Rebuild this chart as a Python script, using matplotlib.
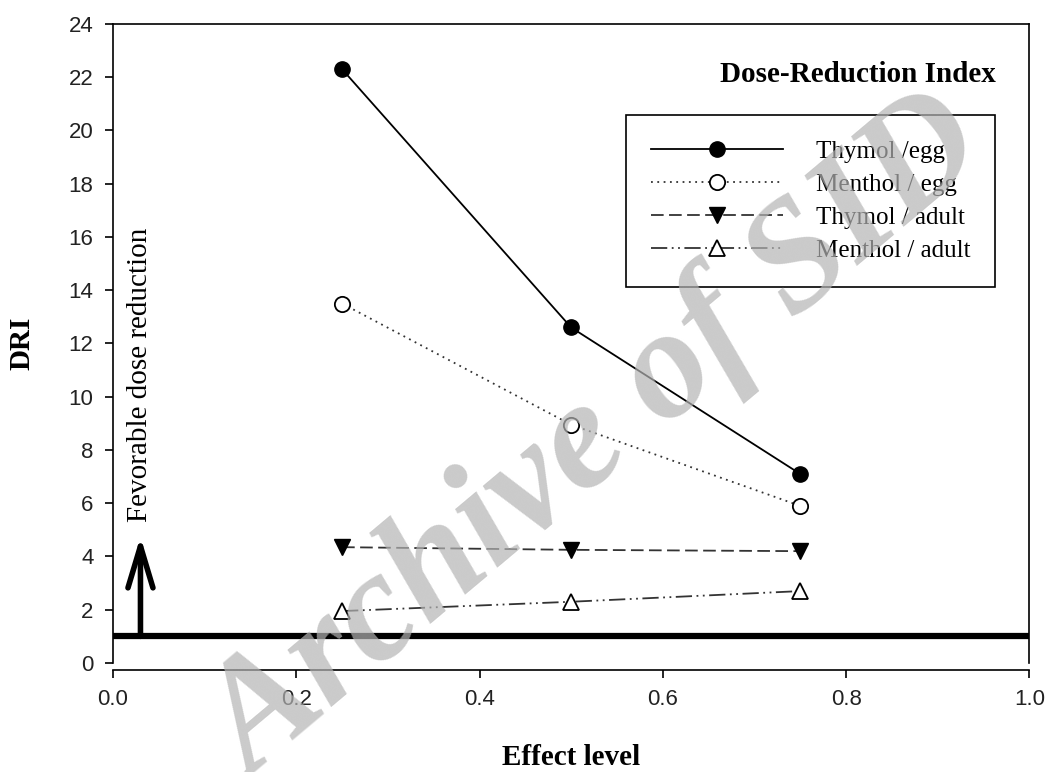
import matplotlib.pyplot as plt

effect_level = [0.25, 0.5, 0.75]
thymol_egg = [22.3, 12.6, 7.1]
menthol_egg = [13.5, 8.95, 5.9]
thymol_adult = [4.35, 4.25, 4.2]
menthol_adult = [1.95, 2.3, 2.7]
labels = ['Thymol /egg', 'Menthol / egg', 'Thymol / adult', 'Menthol / adult']

serif = 'Liberation Serif'
sans = 'Liberation Sans'
plt.rcParams['font.family'] = sans

fig = plt.figure(figsize=(10.48, 7.72), dpi=100)
ax = fig.add_axes([0.1078, 0.1412, 0.8744, 0.8278])

ax.plot(effect_level, thymol_egg, color='black', lw=1.3, ls='-',
        marker='o', ms=11, mfc='black', label=labels[0])
ax.plot(effect_level, menthol_egg, color='#333333', lw=1.3, ls=(0, (1, 2.5)),
        marker='o', ms=11, mfc='white', mec='black', mew=1.3, label=labels[1])
ax.plot(effect_level, thymol_adult, color='#333333', lw=1.3, ls=(0, (7, 3)),
        marker='v', ms=11, mfc='black', mec='black', label=labels[2])
ax.plot(effect_level, menthol_adult, color='#333333', lw=1.3,
        ls=(0, (9, 2.5, 1, 2.5, 1, 2.5)),
        marker='^', ms=11, mfc='white', mec='black', mew=1.3, label=labels[3])

# line at DRI = 1
ax.axhline(1, color='black', lw=4.5, zorder=1)
ax.annotate('', xy=(0.03, 4.75), xytext=(0.03, 1.0),
            arrowprops=dict(arrowstyle='->,head_length=1.5,head_width=0.45',
                            mutation_scale=20, lw=4, color='black',
                            shrinkA=0, shrinkB=0))
ax.text(0.03, 5.3, 'Fevorable dose reduction', rotation=90, ha='center',
        va='bottom', fontsize=21, family=serif)
ax.text(0.963, 0.909, 'Dose-Reduction Index', transform=ax.transAxes,
        ha='right', va='baseline', fontsize=21, fontweight='bold', family=serif)

ax.set_xlim(0, 1.0)
ax.set_ylim(0, 24)
ax.spines['bottom'].set_position(('outward', 5))
ax.set_xticks([0.0, 0.2, 0.4, 0.6, 0.8, 1.0])
ax.set_xticklabels(['0.0', '0.2', '0.4', '0.6', '0.8', '1.0'])
ax.set_yticks(range(0, 25, 2))
ax.tick_params(direction='out', length=6, width=1.2, pad=8, labelsize=16,
               labelcolor='#222222')
for s in ax.spines.values():
    s.set_linewidth(1.2)

ax.set_xlabel('Effect level', fontsize=21, fontweight='bold', family=serif, labelpad=24)
ax.set_ylabel('DRI', fontsize=21, fontweight='bold', family=serif, labelpad=24)

leg = ax.legend(loc='upper right', bbox_to_anchor=(0.963, 0.857), handlelength=5.3,
                fancybox=False, edgecolor='black', framealpha=1,
                prop={'family': serif, 'size': 18}, borderpad=1.0,
                labelspacing=0.42, handletextpad=1.3, borderaxespad=0)
leg.get_frame().set_linewidth(1.2)

# watermark of the source
fig.text(0.57, 0.43, 'Archive of SID', rotation=40, ha='center', va='center',
         fontsize=112, fontweight='bold', fontstyle='italic', family=serif,
         color='#b4b4b4', alpha=0.7, zorder=10)

fig.savefig('out.png', dpi=100)
